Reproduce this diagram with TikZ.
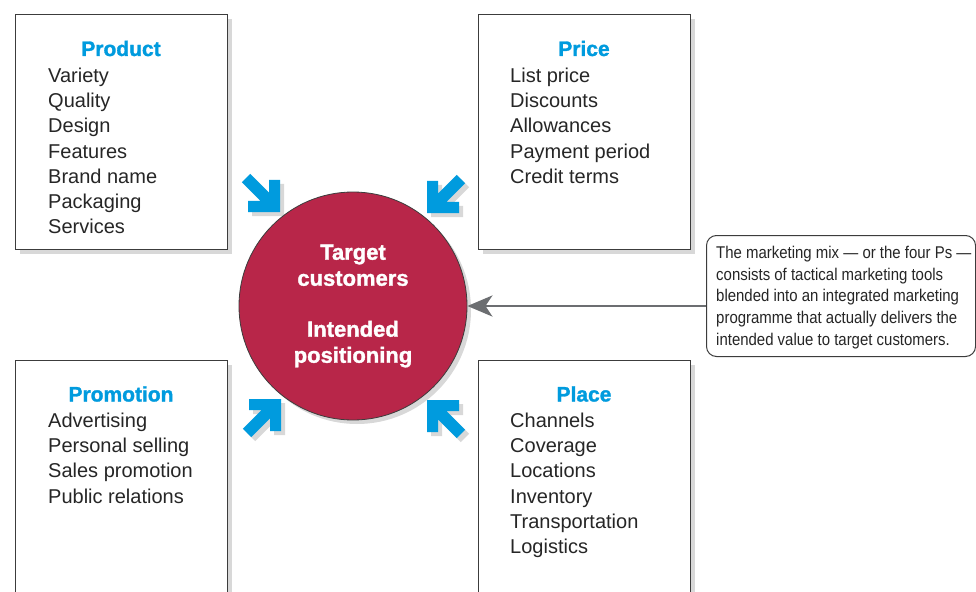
\documentclass[tikz,border=0pt]{standalone}
\usepackage{fontspec}
\setmainfont{Liberation Sans}
\newfontfamily\narrowfont[FakeStretch=0.88]{Liberation Sans}
\newfontfamily\heavyfont[FakeBold=1.4]{Liberation Sans Bold}
\usetikzlibrary{shadows,arrows.meta}
\definecolor{mixblue}{RGB}{0,155,222}
\definecolor{mixred}{RGB}{184,38,73}
\definecolor{mixgray}{RGB}{108,110,113}
\definecolor{boxline}{RGB}{60,60,60}
\tikzset{
  softshadow/.style={drop shadow={shadow xshift=4pt, shadow yshift=-4pt, opacity=0.25, fill=black!60}},
  mixbox/.style={draw=boxline, line width=1.4pt, fill=white, anchor=north west,
    minimum width=212pt, softshadow},
  mixtitle/.style={anchor=base, text=mixblue, font=\heavyfont\fontsize{21}{25}\selectfont},
  mixlist/.style={anchor=north west, align=left, inner sep=0pt, text=black!85,
    font=\fontsize{20}{25.3}\selectfont},
  mixarrow/.pic={
    \fill[mixblue, softshadow] (0,0) -- (-22.63,22.63) -- (-30.41,14.85) -- (-21.56,6)
      -- (-48,6) -- (-48,-6) -- (-21.56,-6) -- (-30.41,-14.85) -- (-22.63,-22.63) -- cycle;
  }
}
\begin{document}
\begin{tikzpicture}[x=1pt, y=-1pt]
\useasboundingbox[fill=white] (0,0) rectangle (976,591);

\node[mixbox, minimum height=235pt] (product) at (15,14) {};
\node[mixbox, minimum height=235pt] (price) at (478,14) {};
\node[mixbox, minimum height=260pt] (promotion) at (15,360) {};
\node[mixbox, minimum height=260pt] (place) at (478,360) {};

\node[mixtitle] (producttitle) at (121,56) {Product};
\node[mixlist] (productlist) at (48,67.5) {Variety\\Quality\\Design\\Features\\Brand name\\Packaging\\Services};
\node[mixtitle] (pricetitle) at (584,56) {Price};
\node[mixlist] (pricelist) at (510,67.5) {List price\\Discounts\\Allowances\\Payment period\\Credit terms};
\node[mixtitle] (promotiontitle) at (121,401.5) {Promotion};
\node[mixlist] (promotionlist) at (48,412.5) {Advertising\\Personal selling\\Sales promotion\\Public relations};
\node[mixtitle] (placetitle) at (584,401.5) {Place};
\node[mixlist] (placelist) at (510,412.5) {Channels\\Coverage\\Locations\\Inventory\\Transportation\\Logistics};

\node[circle, draw=boxline, line width=0.8pt, fill=mixred, minimum size=228pt, softshadow,
  text=white, align=center, font=\heavyfont\fontsize{22}{26}\selectfont] (target) at (353,306)
  {Target\\customers\\[25pt]Intended\\positioning};

\pic[rotate=-45] at (280,212) {mixarrow};
\pic[rotate=-135] at (427,213) {mixarrow};
\pic[rotate=45] at (281,399) {mixarrow};
\pic[rotate=135] at (427,400) {mixarrow};

\node[draw=boxline, line width=1pt, rounded corners=10pt, anchor=north west, fill=white,
  minimum width=269pt, minimum height=121pt] (mixnote) at (706,235) {};
\node[anchor=north west, align=left, inner sep=0pt, text=black!85,
  font=\narrowfont\fontsize{17}{21.7}\selectfont] (notetext) at (716,246)
  {The marketing mix — or the four Ps —\\consists of tactical marketing tools\\blended into an integrated marketing\\programme that actually delivers the\\intended value to target customers.};

\draw[mixgray, line width=2.8pt, -{Stealth[length=25pt, width=21pt, inset=7pt]}]
  (target.east -| mixnote.west) -- (target.east);
\end{tikzpicture}
\end{document}
